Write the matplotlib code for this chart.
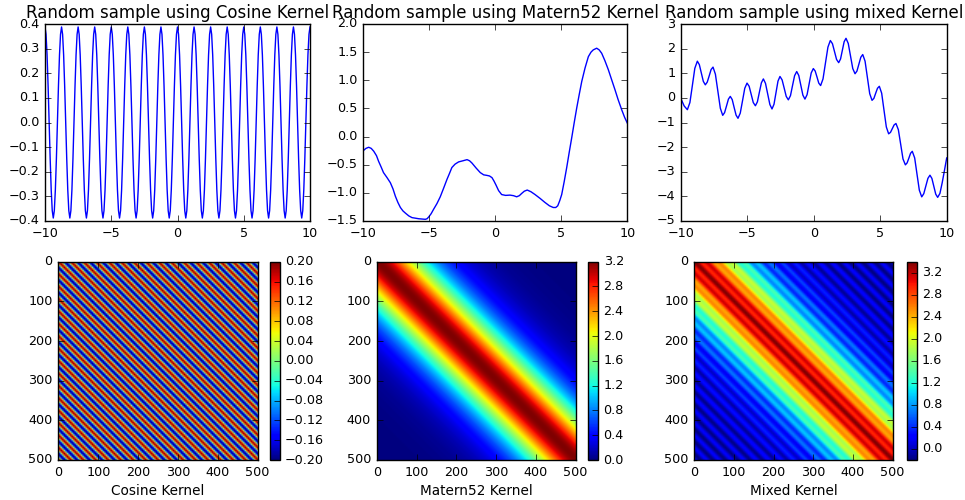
import numpy as np
import matplotlib
matplotlib.use("Agg")
import matplotlib.pyplot as plt
from matplotlib.ticker import FuncFormatter

# ---------------- data ----------------
# Cosine-kernel sample: one period (16 samples, period ~1.25) repeated over [-10, 10]
cos_sample_period = [0.388, 0.358, 0.274, 0.148, 0.0, -0.148, -0.274, -0.358,
                     -0.388, -0.358, -0.274, -0.148, 0.0, 0.148, 0.274, 0.358]
cos_sample_x_range = [-10.0, 10.0]
cos_sample_periods = 16

# Matern52-kernel sample
matern_x = [-10.0, -9.8, -9.59, -9.4, -9.21, -9.0, -8.84, -8.65, -8.47, -8.2,
            -7.95, -7.75, -7.57, -7.38, -7.19, -7.0, -6.81, -6.55, -6.31, -6.05,
            -5.80, -5.55, -5.30, -5.17, -5.05, -4.86, -4.67, -4.42, -4.17, -3.92,
            -3.66, -3.48, -3.29, -3.05, -2.78, -2.45, -2.14, -1.95, -1.77, -1.45,
            -1.14, -0.88, -0.63, -0.44, -0.25, -0.10, 0.05, 0.25, 0.48, 0.78,
            1.11, 1.38, 1.62, 1.82, 2.00, 2.20, 2.42, 2.70, 3.01, 3.40,
            3.76, 4.10, 4.39, 4.58, 4.73, 4.88, 5.03, 5.22, 5.41, 5.60,
            5.79, 5.98, 6.17, 6.36, 6.55, 6.80, 7.05, 7.25, 7.42, 7.68,
            7.87, 8.06, 8.30, 8.56, 8.80, 9.07, 9.30, 9.57, 9.80, 10.0]
matern_y = [-0.25, -0.21, -0.19, -0.21, -0.26, -0.34, -0.44, -0.54, -0.64, -0.73,
            -0.82, -0.93, -1.06, -1.17, -1.26, -1.32, -1.36, -1.41, -1.44, -1.45,
            -1.46, -1.465, -1.47, -1.46, -1.43, -1.37, -1.29, -1.19, -1.07, -0.92,
            -0.76, -0.66, -0.55, -0.49, -0.45, -0.43, -0.41, -0.43, -0.47, -0.56,
            -0.64, -0.68, -0.69, -0.70, -0.73, -0.79, -0.86, -0.96, -1.03, -1.045,
            -1.04, -1.05, -1.07, -1.05, -1.01, -0.97, -0.95, -0.98, -1.03, -1.10,
            -1.17, -1.23, -1.26, -1.26, -1.23, -1.14, -1.03, -0.80, -0.55, -0.28,
            -0.02, 0.25, 0.51, 0.75, 0.98, 1.22, 1.42, 1.50, 1.54, 1.57,
            1.54, 1.48, 1.35, 1.19, 1.02, 0.83, 0.66, 0.48, 0.34, 0.24]

# Mixed-kernel sample
mixed_x = [-10.0, -9.76, -9.52, -9.33, -9.145, -8.96, -8.77, -8.62, -8.47, -8.32,
           -8.17, -8.025, -7.88, -7.735, -7.59, -7.41, -7.225, -7.04, -6.86, -6.72,
           -6.575, -6.43, -6.29, -6.145, -6.0, -5.855, -5.71, -5.54, -5.37, -5.2,
           -5.03, -4.87, -4.715, -4.56, -4.40, -4.25, -4.10, -3.95, -3.80, -3.64,
           -3.475, -3.31, -3.15, -3.0, -2.85, -2.70, -2.55, -2.39, -2.235, -2.08,
           -1.92, -1.76, -1.605, -1.45, -1.29, -1.135, -0.98, -0.825, -0.67, -0.51,
           -0.355, -0.20, -0.04, 0.10, 0.235, 0.37, 0.51, 0.69, 0.875, 1.06,
           1.24, 1.40, 1.555, 1.71, 1.87, 2.01, 2.145, 2.28, 2.42, 2.59,
           2.76, 2.93, 3.10, 3.245, 3.39, 3.535, 3.68, 3.855, 4.03, 4.205,
           4.38, 4.52, 4.655, 4.79, 4.93, 5.105, 5.28, 5.455, 5.63, 5.77,
           5.905, 6.04, 6.18, 6.36, 6.535, 6.71, 6.89, 7.02, 7.15, 7.28,
           7.41, 7.59, 7.765, 7.94, 8.12, 8.275, 8.43, 8.585, 8.74, 8.885,
           9.03, 9.175, 9.32, 9.49, 9.66, 9.83, 10.0]
mixed_y = [-0.04, -0.33, -0.48, -0.19, 0.50, 1.20, 1.49, 1.35, 1.01, 0.67,
           0.53, 0.64, 0.89, 1.15, 1.25, 0.96, 0.27, -0.42, -0.71, -0.60,
           -0.33, -0.05, 0.06, -0.07, -0.39, -0.70, -0.83, -0.62, -0.12, 0.39,
           0.60, 0.47, 0.14, -0.19, -0.32, -0.16, 0.23, 0.61, 0.77, 0.59,
           0.16, -0.27, -0.45, -0.26, 0.21, 0.68, 0.87, 0.73, 0.40, 0.06,
           -0.08, 0.09, 0.50, 0.90, 1.07, 0.91, 0.51, 0.11, -0.05, 0.13,
           0.57, 1.01, 1.19, 1.09, 0.85, 0.60, 0.50, 0.77, 1.42, 2.06,
           2.33, 2.20, 1.88, 1.56, 1.43, 1.58, 1.93, 2.28, 2.42, 2.21,
           1.70, 1.19, 0.98, 1.09, 1.37, 1.65, 1.76, 1.49, 0.83, 0.17,
           -0.10, -0.02, 0.19, 0.39, 0.47, 0.19, -0.50, -1.18, -1.46, -1.40,
           -1.25, -1.10, -1.04, -1.29, -1.88, -2.48, -2.72, -2.64, -2.45, -2.25,
           -2.17, -2.44, -3.10, -3.75, -4.02, -3.89, -3.58, -3.27, -3.14, -3.27,
           -3.59, -3.91, -4.04, -3.88, -3.45, -2.95, -2.44]

# Kernel profiles vs. index lag (lag step = 500/128)
n_index = 500
lag_steps = 128
cos_kernel_period = [0.2, 0.1414, 0.0, -0.1414, -0.2, -0.1414, 0.0, 0.1414]
matern_kernel_profile = [
    3.200, 3.196, 3.182, 3.160, 3.130, 3.092, 3.047, 2.995, 2.938, 2.876, 2.809,
    2.738, 2.664, 2.587, 2.508, 2.428, 2.346, 2.264, 2.182, 2.100, 2.018,
    1.937, 1.857, 1.778, 1.701, 1.625, 1.552, 1.480, 1.410, 1.342, 1.277,
    1.213, 1.152, 1.093, 1.037, 0.982, 0.930, 0.880, 0.832, 0.786, 0.743,
    0.701, 0.662, 0.624, 0.588, 0.554, 0.521, 0.491, 0.461, 0.434, 0.408,
    0.383, 0.359, 0.338, 0.317, 0.297, 0.278, 0.261, 0.244, 0.229, 0.214,
    0.201, 0.188, 0.175, 0.164, 0.154, 0.144, 0.134, 0.125, 0.117, 0.109,
    0.102, 0.095, 0.089, 0.083, 0.077, 0.072, 0.067, 0.062, 0.058, 0.054,
    0.050, 0.047, 0.044, 0.041, 0.038, 0.035, 0.033, 0.031, 0.028, 0.026,
    0.025, 0.023, 0.021, 0.020, 0.018, 0.017, 0.016, 0.015, 0.014, 0.013,
    0.012, 0.011, 0.010, 0.009, 0.009, 0.008, 0.007, 0.007, 0.006, 0.006,
    0.005, 0.005, 0.005, 0.004, 0.004, 0.004, 0.003, 0.003, 0.003, 0.003,
    0.002, 0.002, 0.002, 0.002, 0.002, 0.002, 0.001, 0.001]

titles = ["Random sample using Cosine Kernel",
          "Random sample using Matern52 Kernel",
          "Random sample using mixed Kernel"]
kernel_labels = ["Cosine Kernel", "Matern52 Kernel", "Mixed Kernel"]
sample_ylims = [(-0.4, 0.4), (-1.5, 2.0), (-5, 3)]
sample_xticks = [-10, -5, 0, 5, 10]
sample_yformats = ["%.1f", "%.1f", "%d"]
cbar_ticks = [[-0.20, -0.16, -0.12, -0.08, -0.04, 0.00, 0.04, 0.08, 0.12, 0.16, 0.20],
              [0.0, 0.4, 0.8, 1.2, 1.6, 2.0, 2.4, 2.8, 3.2],
              [0.0, 0.4, 0.8, 1.2, 1.6, 2.0, 2.4, 2.8, 3.2]]
cbar_formats = ["%.2f", "%.1f", "%.1f"]
cbar_limits = [(-0.2, 0.2), (0.0, 3.2), (-0.2, 3.4)]
index_ticks = [0, 100, 200, 300, 400, 500]

# ---------------- build tables ----------------
n_pts = cos_sample_periods * len(cos_sample_period) + 1
cos_sample = np.tile(cos_sample_period, cos_sample_periods + 1)[:n_pts]
cos_x = np.linspace(cos_sample_x_range[0], cos_sample_x_range[1], n_pts)

n_cos_periods = lag_steps // len(cos_kernel_period) + 1
cos_profile = np.tile(cos_kernel_period, n_cos_periods)[:lag_steps + 1]
matern_profile = np.array(matern_kernel_profile)
idx = np.arange(lag_steps + 1)
lag = np.abs(idx[:, None] - idx[None, :])
K_cos = cos_profile[lag]
K_mat = matern_profile[lag]
K_mix = K_mat + K_cos
kernels = [K_cos, K_mat, K_mix]
samples = [(cos_x, cos_sample), (matern_x, matern_y), (mixed_x, mixed_y)]

# ---------------- figure ----------------
plt.style.use("classic")
plt.rcParams["font.family"] = ["DejaVu Sans"]
plt.rcParams["axes.unicode_minus"] = True
W, H = 965, 500
fig = plt.figure(figsize=(W / 100, H / 100), dpi=100, facecolor="white")


def px_axes(left, top, right, bottom):
    return fig.add_axes([left / W, 1 - bottom / H, (right - left) / W, (bottom - top) / H])


def minus_fmt(fmt):
    def f(v, pos):
        s = fmt % v
        if s.startswith("-") and float(s) == 0:
            s = s[1:]
        return s.replace("-", "\u2212")
    return FuncFormatter(f)


top_boxes = [(45, 24, 310, 221), (363.3, 24, 627.3, 221), (681, 24, 946.7, 221)]
img_boxes = [(58.3, 261.7, 257.7, 460), (376.7, 261.7, 575.7, 460), (694.3, 261.7, 892.7, 460)]
cbar_boxes = [(270, 261.7, 279.5, 460), (588, 261.7, 598, 460), (906.7, 261.7, 916.5, 460)]

tick_fs = 9.2
step = n_index / lag_steps
for i in range(3):
    ax = px_axes(*top_boxes[i])
    x, y = samples[i]
    ax.plot(x, y, color="b", lw=1.0)
    ax.set_xlim(-10, 10)
    ax.set_ylim(*sample_ylims[i])
    ax.set_xticks(sample_xticks)
    ax.xaxis.set_major_formatter(minus_fmt("%d"))
    ax.yaxis.set_major_formatter(minus_fmt(sample_yformats[i]))
    ax.tick_params(labelsize=tick_fs)
    ax.set_title(titles[i], fontsize=12, pad=4)

    axi = px_axes(*img_boxes[i])
    im = axi.imshow(kernels[i], cmap="jet", interpolation="bilinear",
                    vmin=cbar_limits[i][0], vmax=cbar_limits[i][1],
                    extent=[-step / 2, n_index + step / 2, n_index + step / 2, -step / 2],
                    aspect="auto")
    axi.set_xlim(-0.5, n_index + 0.5)
    axi.set_ylim(n_index + 0.5, -0.5)
    axi.set_xticks(index_ticks)
    axi.set_yticks(index_ticks)
    axi.tick_params(labelsize=tick_fs)
    axi.set_xlabel(kernel_labels[i], fontsize=9.8, labelpad=4)

    cax = px_axes(*cbar_boxes[i])
    cb = fig.colorbar(im, cax=cax, ticks=cbar_ticks[i])
    cb.ax.yaxis.set_major_formatter(minus_fmt(cbar_formats[i]))
    cb.ax.tick_params(labelsize=tick_fs)

fig.savefig("out.png", dpi=100, facecolor="white")
